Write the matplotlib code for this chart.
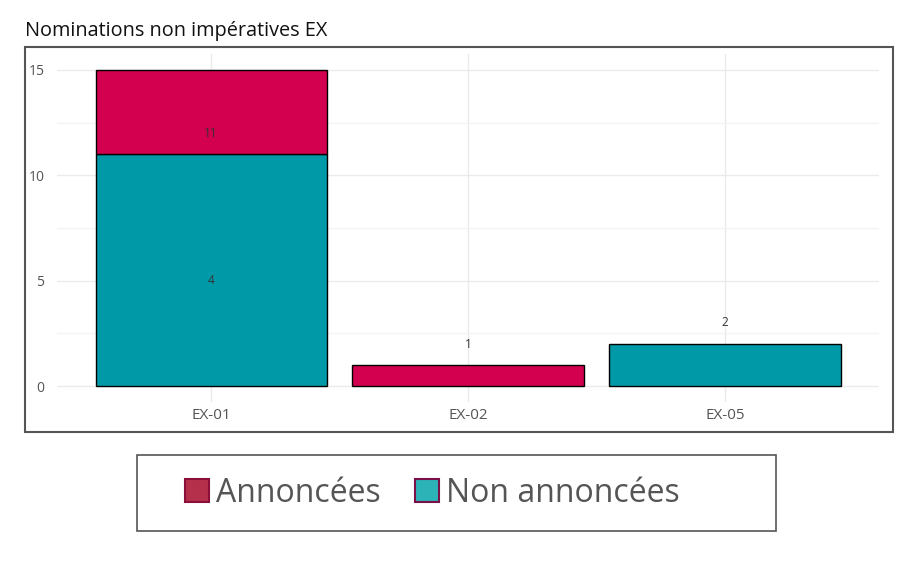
import matplotlib
matplotlib.use('Agg')
import matplotlib.pyplot as plt
from matplotlib.patches import Rectangle, Patch

plt.rcParams['font.family'] = ['Open Sans', 'DejaVu Sans']

categories = ['EX-01', 'EX-02', 'EX-05']
non_annoncees = [11, 0, 2]
annoncees = [4, 1, 0]
# labels as shown on the chart and the height they sit at
label_text = ['11', '4', '1', '2']
label_cat = [0, 0, 1, 2]
label_y = [12, 5, 2, 3]

teal = '#0099A8'
red = '#D3004F'

fig = plt.figure(figsize=(9.2, 5.78), dpi=100)
ax = fig.add_axes([0.062, 0.3045, 0.8935, 0.602])

x = list(range(len(categories)))
for i in x:
    if non_annoncees[i] > 0:
        ax.bar(i, non_annoncees[i], width=0.9, color=teal, edgecolor='black', linewidth=1, zorder=3)
    if annoncees[i] > 0:
        ax.bar(i, annoncees[i], bottom=non_annoncees[i], width=0.9, color=red,
               edgecolor='black', linewidth=1, zorder=3)

for t, c, y in zip(label_text, label_cat, label_y):
    ax.text(c, y, t, ha='center', va='center', fontsize=8.5, color='#333333', zorder=4)

ax.set_xlim(-0.6, 2.6)
ax.set_ylim(-0.75, 15.75)
ax.set_yticks([0, 5, 10, 15])
ax.set_yticks([2.5, 7.5, 12.5], minor=True)
ax.set_xticks(x)
ax.set_xticklabels(categories)
ax.grid(True, which='major', color='#ebebeb', linewidth=1, zorder=0)
ax.grid(True, which='minor', axis='y', color='#f4f4f4', linewidth=1, zorder=0)
ax.tick_params(which='both', length=0, labelcolor='#555555')
ax.tick_params(axis='y', labelsize=10, pad=9)
ax.tick_params(axis='x', labelsize=11, pad=4)
for s in ax.spines.values():
    s.set_visible(False)

# outer panel box
fig.patches.append(Rectangle((0.0272, 0.2526), 0.9435, 0.6661, transform=fig.transFigure,
                             fill=False, edgecolor='#555555', linewidth=1.5))
fig.text(0.0272, 0.947, 'Nominations non impératives EX', fontsize=14.3, color='#111111',
         ha='left', va='center')

# legend box
fig.patches.append(Rectangle((0.149, 0.0813), 0.6946, 0.1315, transform=fig.transFigure,
                             fill=False, edgecolor='#555555', linewidth=1.2))
handles = [Patch(facecolor='#B5304A', edgecolor='#8B0F3A', linewidth=1.5),
           Patch(facecolor='#2CB3B8', edgecolor='#7A1048', linewidth=1.5)]
leg = fig.legend(handles, ['Annoncées', 'Non annoncées'], loc='center',
                 bbox_to_anchor=(0.47, 0.147), ncol=2, frameon=False, fontsize=23,
                 handlelength=0.75, handleheight=0.75, handletextpad=0.2, columnspacing=1.1,
                 labelcolor='#555555')

fig.savefig('out.png', dpi=100)
